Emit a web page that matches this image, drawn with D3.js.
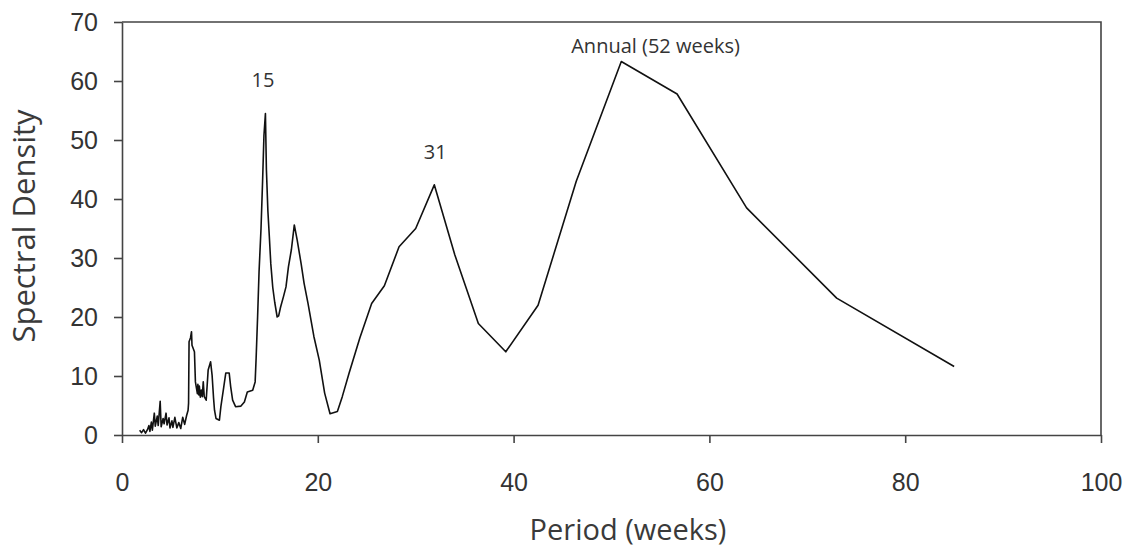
<!DOCTYPE html>
<html>
<head>
<meta charset="utf-8">
<script src="https://cdnjs.cloudflare.com/ajax/libs/d3/7.8.5/d3.min.js"></script>
<style>
    body { margin: 0; background: #fff; }
    #chart { width: 1132px; height: 550px; }
    .axis text { font-family: "Liberation Sans", Arial, sans-serif; font-size: 25px; fill: #333; }
    .axis path, .axis line { stroke: #444; stroke-width: 1.6; }
    .axisLabel { font-family: "Open Sans", sans-serif; fill: #3a3a3a; }
    .note { font-family: "Open Sans", sans-serif; font-size: 20px; fill: #333; text-anchor: middle; }
</style>
</head>
<body>
<div id="chart"></div>
<script>
// period (weeks) and spectral density
const period = [
    1.8, 2.0, 2.2, 2.4, 2.6, 2.75, 2.85, 3.0, 3.1, 3.3, 3.4, 3.6, 3.7, 3.9, 4.0,
    4.2, 4.3, 4.5, 4.6, 4.8, 4.9, 5.1, 5.2, 5.4, 5.6, 5.8, 6.0, 6.2, 6.4, 6.6,
    6.75, 6.8, 6.85, 7.0, 7.1, 7.15, 7.4, 7.5, 7.6, 7.7, 7.75, 7.85, 7.9, 8.0,
    8.1, 8.2, 8.3, 8.4, 8.6, 8.8, 9.05, 9.2, 9.35, 9.45, 9.6, 9.95, 10.1, 10.4,
    10.6, 10.95, 11.1, 11.3, 11.6, 12.15, 12.5, 12.8, 13.35, 13.6, 13.7, 13.85,
    14.0, 14.2, 14.36, 14.5, 14.65, 14.75, 14.9, 15.05, 15.2, 15.4, 15.6, 15.85,
    16.0, 16.2, 16.5, 16.75, 17.0, 17.3, 17.6, 17.9, 18.3, 18.6, 19.0, 19.3,
    19.6, 20.15, 20.7, 21.25, 22.0, 22.5, 23.2, 24.3, 25.5, 26.8, 28.3, 30.0,
    31.9, 34.0, 36.4, 39.2, 42.5, 46.4, 51.0, 56.7, 63.8, 73.0, 85.0
];
const density = [
    0.8, 0.4, 0.9, 0.3, 0.9, 1.6, 0.6, 2.2, 0.8, 3.7, 1.5, 3.2, 1.6, 5.7, 1.4,
    2.8, 1.9, 3.7, 1.7, 2.9, 1.2, 2.4, 1.3, 3.0, 1.2, 2.1, 1.1, 3.0, 1.8, 3.3,
    4.2, 5.4, 15.8, 16.5, 17.5, 15.2, 14.1, 9.0, 8.0, 7.0, 8.6, 6.8, 8.3, 6.4,
    7.6, 6.5, 9.0, 6.5, 5.9, 11.0, 12.4, 10.2, 6.3, 4.2, 2.8, 2.5, 4.8, 8.2,
    10.5, 10.5, 8.2, 5.9, 4.8, 4.9, 5.6, 7.3, 7.6, 9.0, 13.0, 20.0,
    27.7, 35.0, 43.0, 50.8, 54.5, 45.0, 38.0, 33.6, 29.0, 25.0, 22.5, 20.0,
    20.2, 21.7, 23.5, 25.1, 28.5, 31.4, 35.6, 33.0, 29.0, 25.7, 22.3, 19.5,
    16.7, 12.7, 7.1, 3.6, 4.0, 6.5, 10.5, 16.5, 22.3, 25.3, 31.9, 35.0,
    42.4, 30.5, 18.9, 14.1, 22.0, 43.0, 63.3, 57.8, 38.5, 23.2, 11.6
];
const xTicks = [0, 20, 40, 60, 80, 100];
const yTicks = [0, 10, 20, 30, 40, 50, 60, 70];
const notes = [
    {text: "15", period: 14.4, value: 59},
    {text: "31", period: 32.0, value: 46.7},
    {text: "Annual (52 weeks)", period: 54.5, value: 64.7}
];

const data = period.map(function(p, i) { return {p: p, v: density[i]}; });

/*
SETTING UP THE SVG CANVAS
*/
const width = 1132;
const height = 550;
const margin = {top: 22, left: 122, right: 31, bottom: 115};

const canvas = d3.select("#chart")
    .append("svg")
    .attr("width", width)
    .attr("height", height);

/*
SCALES
*/
const xScale = d3.scaleLinear()
    .domain([0, 100])
    .range([margin.left, width - margin.right]);

const yScale = d3.scaleLinear()
    .domain([0, 70])
    .range([height - margin.bottom, margin.top]);

/*
FRAME (top and right edges)
*/
canvas.append("path")
    .attr("d", `M${margin.left},${margin.top}H${width - margin.right}V${height - margin.bottom}`)
    .attr("fill", "none")
    .attr("stroke", "#444")
    .attr("stroke-width", 1.6);

/*
AXES
*/
const xAxis = canvas.append("g")
    .attr("class", "axis")
    .attr("transform", `translate(0,${height - margin.bottom})`)
    .call(d3.axisBottom(xScale).tickValues(xTicks).tickSize(8).tickSizeOuter(0).tickPadding(30));

const yAxis = canvas.append("g")
    .attr("class", "axis")
    .attr("transform", `translate(${margin.left},0)`)
    .call(d3.axisLeft(yScale).tickValues(yTicks).tickSize(8).tickSizeOuter(0).tickPadding(16));

/*
AXIS LABELS
*/
canvas.append("text")
    .attr("class", "axisLabel")
    .attr("x", 628)
    .attr("y", 540)
    .attr("text-anchor", "middle")
    .style("font-size", "29px")
    .text("Period (weeks)");

canvas.append("text")
    .attr("class", "axisLabel")
    .attr("transform", "rotate(-90)")
    .attr("x", -226)
    .attr("y", 35)
    .attr("text-anchor", "middle")
    .style("font-size", "31px")
    .text("Spectral Density");

/*
DRAW LINE
*/
const line = d3.line()
    .x(function(d) { return xScale(d.p); })
    .y(function(d) { return yScale(d.v); });

canvas.append("path")
    .datum(data)
    .attr("d", line)
    .attr("fill", "none")
    .attr("stroke", "#111")
    .attr("stroke-width", 1.6)
    .attr("stroke-linejoin", "round");

/*
PEAK NOTES
*/
canvas.selectAll(".note")
    .data(notes)
    .enter()
    .append("text")
    .attr("class", "note")
    .attr("x", function(d) { return xScale(d.period); })
    .attr("y", function(d) { return yScale(d.value); })
    .text(function(d) { return d.text; });
</script>
</body>
</html>
